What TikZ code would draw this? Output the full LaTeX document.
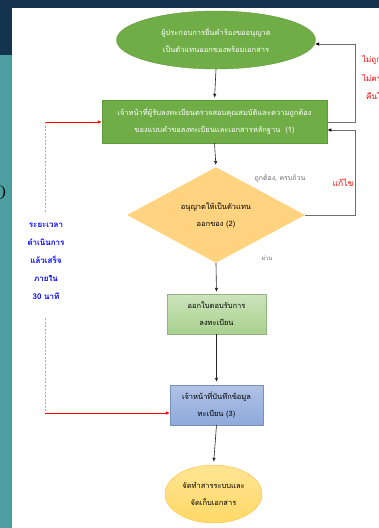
\documentclass[tikz,border=0pt]{standalone}
\usepackage{fontspec}
\newfontfamily\thai[Script=Thai]{Loma}
\usetikzlibrary{shapes.geometric,calc,arrows.meta}
\definecolor{navy}{HTML}{14334E}
\definecolor{teal2}{HTML}{4C9EA0}
\definecolor{gr}{HTML}{70AD47}
\definecolor{grb}{HTML}{5E9A3A}
\definecolor{lgr}{HTML}{A9D18E}
\definecolor{bl}{HTML}{8EA9DB}
\definecolor{gold}{HTML}{FFD966}
\definecolor{orng}{HTML}{FFD37F}
\definecolor{gline}{HTML}{6F6F6F}
\definecolor{pinkd}{HTML}{FF8A8A}
\tikzset{
  txt/.style={font=\thai\fontsize{7.5}{17}\selectfont, align=center, inner sep=0},
  conn/.style={draw=black!85, line width=0.6pt, -{Latex[length=4pt,width=3.5pt]}},
  loopline/.style={draw=gline, line width=0.9pt},
  looparrow/.style={loopline, -{Latex[length=4pt,width=3.5pt,black]}},
  lbl/.style={font=\thai\fontsize{7}{9}\selectfont, inner sep=0},
  pinkdash/.style={draw=pinkd, line width=0.8pt, dash pattern=on 2pt off 1.5pt},
}
\begin{document}
\begin{tikzpicture}[x=1pt,y=-1pt]
\useasboundingbox (0,0) rectangle (379,528);
\fill[white] (0,0) rectangle (379,528);
\fill[navy] (0,0) rectangle (379,8);
\fill[navy] (0,0) rectangle (12,55);
\fill[teal2] (0,55) rectangle (12,528);
\node[font=\fontsize{20}{20}\selectfont, inner sep=0] (o) at (-1,193) {O};

\node[ellipse, fill=gr, draw=grb, line width=0.4pt, minimum width=199pt, minimum height=58pt, inner sep=0,
      txt, text=white] (e1) at (216,40) {ผู้ประกอบการยื่นคำร้องขออนุญาต\\เป็นตัวแทนออกของพร้อมเอกสาร};
\node[rectangle, fill=gr, draw=grb, line width=0.5pt, minimum width=225pt, minimum height=43pt,
      txt, text=white] (r1) at (214.5,121.5) {เจ้าหน้าที่ผู้รับลงทะเบียนตรวจสอบคุณสมบัติและความถูกต้อง\\ของแบบคำขอลงทะเบียนและเอกสารหลักฐาน\ \ (1)};
\node[diamond, fill=orng, minimum width=178pt, minimum height=80pt, inner sep=0, txt] (d) at (216,215)
      {อนุญาตให้เป็นตัวแทน\\ออกของ (2)};
\node[rectangle, top color=lgr!60, bottom color=lgr, draw=lgr!80!black!90, line width=0.3pt,
      minimum width=99pt, minimum height=40pt, txt] (r2) at (216.5,314) {ออกใบตอบรับการ\\ลงทะเบียน};
\node[rectangle, top color=bl!70, bottom color=bl, draw=bl!85!black, line width=0.3pt,
      minimum width=93pt, minimum height=40pt, txt] (r3) at (216.5,405) {เจ้าหน้าที่บันทึกข้อมูล\\ทะเบียน (3)};
\node[ellipse, top color=gold!70, bottom color=gold, draw=gold!80!orange, line width=0.5pt,
      minimum width=97pt, minimum height=58pt, inner sep=0, txt] (e2) at (213.5,494) {จัดทำสารระบบและ\\จัดเก็บเอกสาร};

\draw[conn, shorten >=2pt] (e1.south) -- (r1.north);
\draw[conn, shorten >=2pt] (r1.south) -- (d.north);
\draw[conn, shorten >=2pt] (d.south) -- (r2.north);
\draw[conn, shorten >=3pt] (r2.south) -- (r3.north);
\draw[conn, shorten >=3pt] (r3.south) -- (e2.north);

\coordinate (a1) at (355,122);
\coordinate (a2) at (355,44);
\coordinate (a3) at (315,44);
\draw[loopline] (r1.east |- a1) -- (a1) -- (a2);
\draw[looparrow] (a2) -- (a3);
\coordinate (b1) at (355,215);
\coordinate (b2) at (355,130);
\draw[loopline] (d.east) -- (b1) -- (b2);
\draw[looparrow] (b2) -- (b2 -| r1.east);

\node[lbl, text=gline] (ok) at (280,178) {ถูกต้อง, ครบถ้วน};
\node[lbl, text=gline, font=\thai\fontsize{6}{8}\selectfont] (pass) at (267,258) {ผ่าน};
\node[lbl, text=red, font=\thai\fontsize{8.5}{10}\selectfont] (fix) at (343,183) {แก้ไข};
\node[lbl, text=red, anchor=west, font=\thai\fontsize{8}{10}\selectfont] (n1) at (362,60) {ไม่ถูกต้อง};
\node[lbl, text=red, anchor=west, font=\thai\fontsize{8}{10}\selectfont] (n2) at (362,78) {ไม่ครบถ้วน};
\node[lbl, text=red, anchor=west, font=\thai\fontsize{8}{10}\selectfont] (n3) at (366,96) {คืนให้แก้ไข};

\coordinate (L1) at (45,122);
\coordinate (L2) at (45,212);
\coordinate (L3) at (45,318);
\coordinate (L4) at (45,413);
\draw[red, line width=0.6pt, -{Latex[length=4pt,width=3.5pt]}] (L1) -- (L1 -| r1.west);
\draw[pinkdash] (L1) -- (L2);
\draw[pinkdash] (L3) -- (L4);
\draw[red, line width=0.6pt, -{Latex[length=4pt,width=3.5pt]}] (L4) -- (L4 -| r3.west);
\node[txt, text=blue, font=\thai\bfseries\fontsize{8}{18}\selectfont] (time) at (46,261)
  {ระยะเวลา\\ดำเนินการ\\แล้วเสร็จ\\ภายใน\\30 นาที};
\end{tikzpicture}
\end{document}
